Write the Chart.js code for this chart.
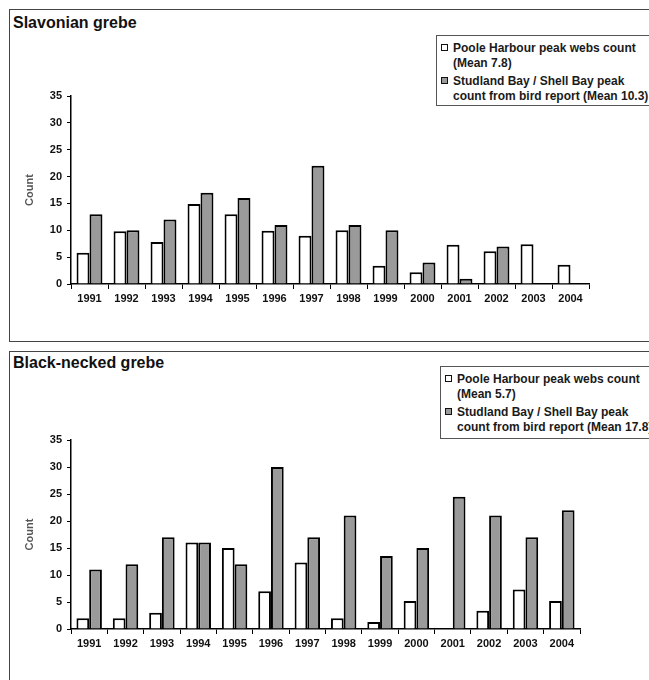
<!DOCTYPE html>
<html>
<head>
<meta charset="utf-8">
<script src="https://cdn.jsdelivr.net/npm/chart.js@4"></script>
<style>
  html, body { margin: 0; padding: 0; background: #fff; }
  body { width: 649px; height: 680px; position: relative; overflow: hidden;
         font-family: "Liberation Sans", Arial, sans-serif; color: #111; }
  .frame { position: absolute; border: 1px solid #444; box-sizing: border-box; }
  .title { position: absolute; font-weight: bold; font-size: 16px; line-height: 18px; white-space: nowrap; }
  .legend { position: absolute; border: 1px solid #555; background: #fff; box-sizing: border-box; }
  .lg-text { position: absolute; font-weight: bold; font-size: 12px; line-height: 14px; white-space: nowrap; color: #1a1a1a; }
  .lg-box { position: absolute; width: 7px; height: 7px; border: 1.5px solid #111; box-sizing: border-box; }
  canvas { position: absolute; left: 0; }
</style>
</head>
<body>
<div class="frame" style="left:9px; top:9px; width:680px; height:333px;"></div>
<div class="frame" style="left:9px; top:351px; width:680px; height:400px;"></div>

<div class="title" style="left:13px; top:14px;">Slavonian grebe</div>
<div class="title" style="left:13px; top:354px;">Black-necked grebe</div>

<canvas id="slavonian" width="649" height="340" style="top:0px;"></canvas>
<canvas id="blacknecked" width="649" height="335" style="top:345px;"></canvas>

<div id="legendTop" class="legend" style="left:436px; top:35px; width:240px; height:71px;"></div>
<div id="legendBottom" class="legend" style="left:440px; top:366px; width:240px; height:73px;"></div>

<script>
// Survey years
const years = ['1991','1992','1993','1994','1995','1996','1997','1998','1999','2000','2001','2002','2003','2004'];

// Slavonian grebe counts
const slavonianPoole    = [5.8, 9.8, 7.8, 14.9, 13, 9.9, 9, 10, 3.4, 2.2, 7.3, 6.1, 7.4, 3.6];
const slavonianStudland = [13, 10, 12, 17, 16, 11, 22, 11, 10, 4, 1, 7, 0, null];

// Black-necked grebe counts
const blackneckedPoole    = [2, 2, 3, 16, 15, 7, 12.3, 2, 1.3, 5.2, 0, 3.4, 7.3, 5.2];
const blackneckedStudland = [11, 12, 17, 16, 12, 30, 17, 21, 13.5, 15, 24.5, 21, 17, 22];

// Axis range and legend labels
const yMin = 0, yMax = 35, yStep = 5;
const pooleLabel    = ['Poole Harbour peak webs count', '(Mean 7.8)', '(Mean 5.7)'];
const studlandLabel = ['Studland Bay / Shell Bay peak', 'count from bird report (Mean 10.3)', 'count from bird report (Mean 17.8)'];

const FONT = '"Liberation Sans", Arial, sans-serif';
const WHITE_FILL = '#ffffff';
const GREY_FILL = '#9a9a9a';

function buildLegend(el, pooleMean, studlandMean, lines) {
  // lines: y centres (relative to the box) of the four text rows
  const parts = [
    { box: WHITE_FILL, rows: [pooleLabel[0], pooleMean], y: [lines[0], lines[1]] },
    { box: GREY_FILL,  rows: [studlandLabel[0], studlandMean], y: [lines[2], lines[3]] }
  ];
  parts.forEach(p => {
    const sw = document.createElement('div');
    sw.className = 'lg-box';
    sw.style.background = p.box;
    sw.style.left = '4px';
    sw.style.top = (p.y[0] - 4) + 'px';
    el.appendChild(sw);
    p.rows.forEach((t, i) => {
      const d = document.createElement('div');
      d.className = 'lg-text';
      d.textContent = t;
      d.style.left = '16px';
      d.style.top = (p.y[i] - 7) + 'px';
      el.appendChild(d);
    });
  });
}

buildLegend(document.getElementById('legendTop'), pooleLabel[1], studlandLabel[1], [12, 27, 45, 60]);
buildLegend(document.getElementById('legendBottom'), pooleLabel[2], studlandLabel[2], [12, 27, 45, 60]);

function makeChart(id, poole, studland, g) {
  return new Chart(document.getElementById(id), {
    type: 'bar',
    data: {
      labels: years,
      datasets: [
        { label: pooleLabel[0], data: poole, backgroundColor: WHITE_FILL,
          borderColor: '#000', borderWidth: 2, borderSkipped: 'bottom' },
        { label: studlandLabel[0], data: studland, backgroundColor: GREY_FILL,
          borderColor: '#000', borderWidth: 2, borderSkipped: 'bottom' }
      ]
    },
    options: {
      responsive: false,
      animation: false,
      events: [],
      datasets: { bar: { categoryPercentage: 0.7, barPercentage: 1.0 } },
      layout: { padding: { top: g.plotTop, right: g.rightPad, left: 0, bottom: 0 } },
      plugins: { legend: { display: false }, tooltip: { enabled: false }, title: { display: false } },
      scales: {
        x: {
          grid: { display: true, offset: true, drawOnChartArea: false, drawTicks: true,
                  tickLength: 5, color: '#000', lineWidth: 1 },
          border: { display: true, color: '#000', width: 1.5 },
          ticks: { color: '#111', font: { family: FONT, size: 11, weight: 'bold' },
                   maxRotation: 0, autoSkip: false, padding: 3 },
          afterFit: s => { s.height = g.xAxisHeight; }
        },
        y: {
          min: yMin, max: yMax,
          grid: { display: true, drawOnChartArea: false, drawTicks: true,
                  tickLength: 4, color: '#000', lineWidth: 1 },
          border: { display: true, color: '#000', width: 1.5 },
          ticks: { stepSize: yStep, color: '#111', padding: 5,
                   font: { family: FONT, size: 11, weight: 'bold' } },
          title: { display: true, text: 'Count', color: '#555',
                   font: { family: FONT, size: 11, weight: 'bold' },
                   padding: { top: 23, bottom: 0 } },
          afterFit: s => { s.width = 71; }
        }
      }
    }
  });
}

makeChart('slavonian', slavonianPoole, slavonianStudland,
          { plotTop: 96, rightPad: 60, xAxisHeight: 340 - 284 });
makeChart('blacknecked', blackneckedPoole, blackneckedStudland,
          { plotTop: 95, rightPad: 69, xAxisHeight: 335 - 284 });
</script>
</body>
</html>
